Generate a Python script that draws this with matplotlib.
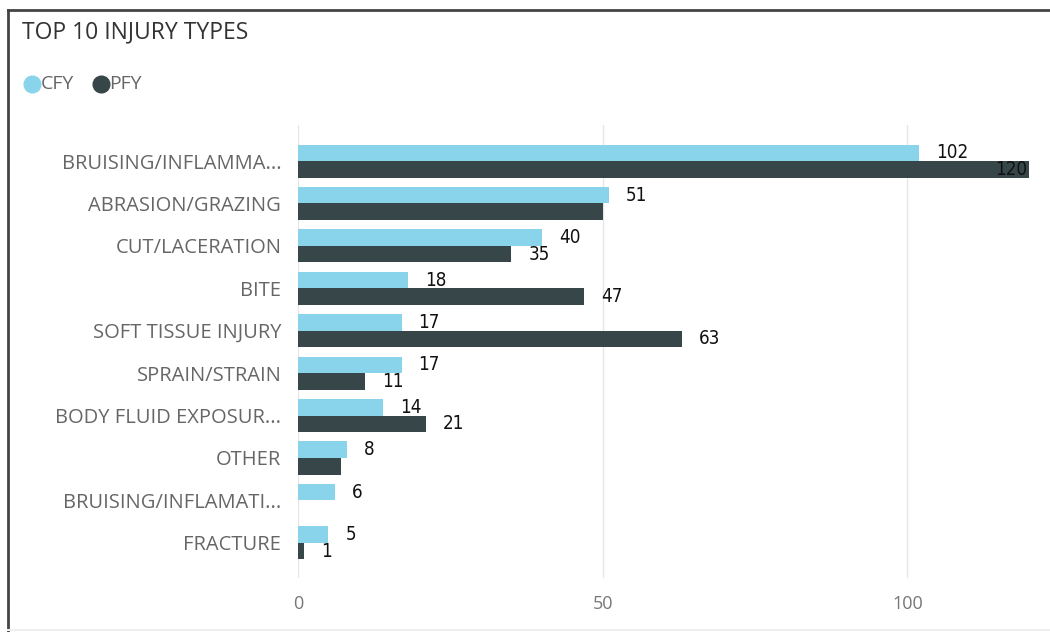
import numpy as np
import matplotlib.pyplot as plt
from matplotlib.lines import Line2D

injury_types = ["BRUISING/INFLAMMA...", "ABRASION/GRAZING", "CUT/LACERATION", "BITE",
                "SOFT TISSUE INJURY", "SPRAIN/STRAIN", "BODY FLUID EXPOSUR...", "OTHER",
                "BRUISING/INFLAMATI...", "FRACTURE"]
cfy = [102, 51, 40, 18, 17, 17, 14, 8, 6, 5]
pfy = [120, 50, 35, 47, 63, 11, 21, 7, np.nan, 1]
# data labels that Power BI dropped for overlap
pfy_hidden = [1, 7]

CFY_COLOR = "#8AD4EB"
PFY_COLOR = "#374649"

fig = plt.figure(figsize=(10.5, 6.32), dpi=100)
W, H = 1050, 632
ax = fig.add_axes([298 / W, 1 - 578 / H, (1031 - 298) / W, (578 - 125) / H])

y = np.arange(len(injury_types))
h = 0.39
ax.barh(y - h / 2, cfy, height=h, color=CFY_COLOR, zorder=2)
ax.barh(y + h / 2, pfy, height=h, color=PFY_COLOR, zorder=2)

ax.set_xlim(0, 120.3)
ax.set_ylim(len(injury_types) - 0.17, -0.85)
ax.set_xticks([0, 50, 100])
ax.set_yticks(y)
ax.set_yticklabels(injury_types)
ax.tick_params(axis="y", length=0, pad=12, labelsize=14.5, labelcolor="#666666")
ax.tick_params(axis="x", length=0, pad=12, labelsize=13, labelcolor="#777777")
for lbl in ax.get_yticklabels() + ax.get_xticklabels():
    lbl.set_family("Open Sans")
ax.grid(axis="x", color="#e6e6e6", linewidth=1, zorder=0)
for s in ax.spines.values():
    s.set_visible(False)

# value labels
px = 120.3 / (1031 - 298)
lab_kw = dict(va="center", fontsize=13.5, color="#111111", family="DejaVu Sans",
              fontstretch="condensed", zorder=3)
for i, v in enumerate(cfy):
    ax.text(v + 17 * px, i - h / 2, str(v), ha="left", **lab_kw)
for i, v in enumerate(pfy):
    if np.isnan(v) or i in pfy_hidden:
        continue
    if v + 30 * px > 120.3:
        ax.text(v - 2 * px, i + h / 2, str(v), ha="right", **lab_kw)
    else:
        ax.text(v + 17 * px, i + h / 2, str(v), ha="left", **lab_kw)

# title and legend
fig.text(22 / W, 1 - 32 / H, "TOP 10 INJURY TYPES", fontsize=16.5, color="#333333",
         family="Open Sans", va="center", ha="left")
fig.add_artist(Line2D([32 / W], [1 - 84 / H], marker="o", markersize=12,
                      color=CFY_COLOR, transform=fig.transFigure))
fig.text(41 / W, 1 - 84 / H, "CFY", fontsize=14, color="#666666", family="Open Sans",
         va="center", ha="left")
fig.add_artist(Line2D([101 / W], [1 - 84 / H], marker="o", markersize=12,
                      color=PFY_COLOR, transform=fig.transFigure))
fig.text(109 / W, 1 - 84 / H, "PFY", fontsize=14, color="#666666", family="Open Sans",
         va="center", ha="left")

# visual border
fig.add_artist(Line2D([8 / W, 1], [1 - 10 / H, 1 - 10 / H], color="#444444",
                      linewidth=2, transform=fig.transFigure))
fig.add_artist(Line2D([8 / W, 8 / W], [0, 1 - 10 / H], color="#444444",
                      linewidth=2, transform=fig.transFigure))
fig.add_artist(Line2D([8 / W, 1], [1 - 630 / H, 1 - 630 / H], color="#eeeeee",
                      linewidth=1.5, transform=fig.transFigure))

fig.savefig("out.png", dpi=100)
